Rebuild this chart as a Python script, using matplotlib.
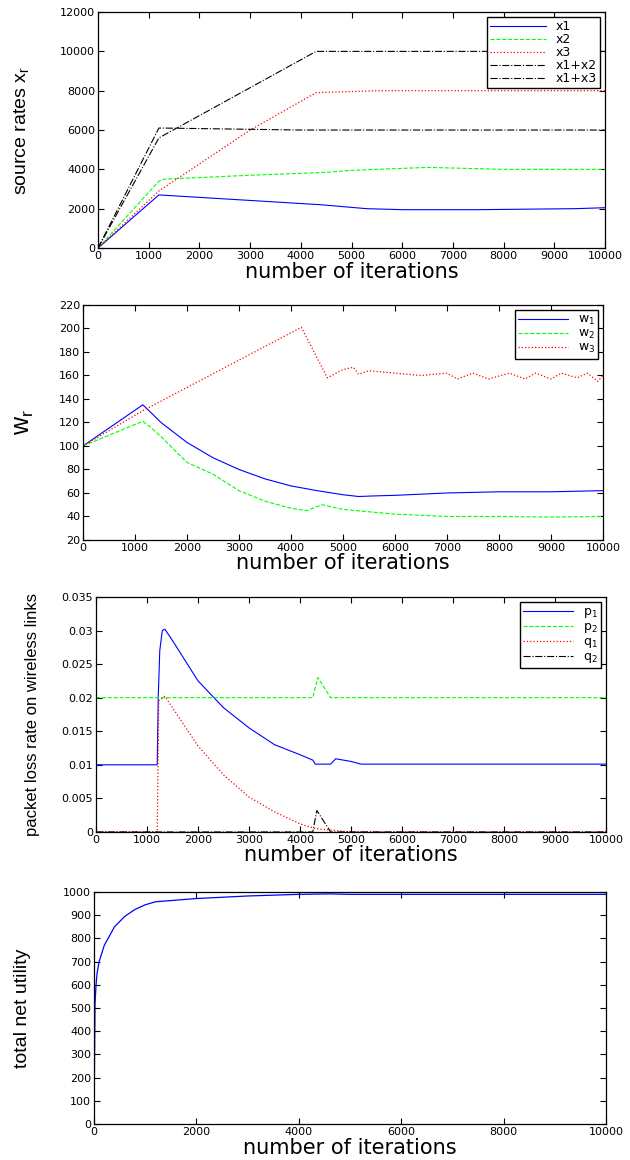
import matplotlib
matplotlib.use("Agg")
import matplotlib.pyplot as plt

# ---- panel 1: source rates (iteration, value) key points
x1_it = [0, 1200, 4400, 5300, 6000, 7500, 9400, 10000]
x1_v = [0, 2700, 2200, 2000, 1950, 1950, 2000, 2050]
x2_it = [0, 1200, 1300, 3000, 4500, 5000, 6500, 8000, 10000]
x2_v = [0, 3400, 3500, 3700, 3850, 3950, 4100, 4000, 4000]
x3_it = [0, 1200, 3000, 4300, 5500, 10000]
x3_v = [0, 2900, 6000, 7900, 8000, 8000]
x12_it = [0, 1200, 1300, 4000, 10000]
x12_v = [0, 6100, 6100, 6000, 6000]
x13_it = [0, 1200, 4300, 10000]
x13_v = [0, 5600, 10000, 10000]

# ---- panel 2: w_r
w1_it = [0, 1150, 1200, 1500, 2000, 2500, 3000, 3500, 4000, 4500, 5000, 5300,
         5600, 6000, 7000, 8000, 9000, 10000]
w1_v = [100, 135, 133, 120, 103, 90, 80, 72, 66, 62, 58.5, 57, 57.5, 58, 60,
        61, 61, 62]
w2_it = [0, 1150, 1300, 1500, 2000, 2500, 3000, 3500, 4000, 4300, 4600, 5000,
         6000, 7000, 8000, 9000, 10000]
w2_v = [100, 121, 116, 108, 86, 76, 62, 53, 47, 45, 50, 46, 42, 40, 40, 39.5, 40]
w3_it = [0, 1150, 4200, 4700, 5000, 5200, 5300, 5500, 6000, 6500, 7000, 7200,
         7500, 7800, 8200, 8500, 8700, 9000, 9200, 9500, 9700, 9900, 10000]
w3_v = [100, 130, 201, 158, 165, 167, 161, 164, 162, 160, 162, 157, 162, 157,
        162, 157, 162, 157, 162, 158, 162, 155, 160]

# ---- panel 3: packet loss rates
p1_it = [0, 1200, 1220, 1250, 1300, 1350, 1500, 2000, 2500, 3000, 3500, 4000,
         4250, 4300, 4600, 4700, 5000, 5200, 10000]
p1_v = [0.01, 0.01, 0.020, 0.027, 0.030, 0.0302, 0.0285, 0.0225, 0.0185,
        0.0155, 0.013, 0.0115, 0.0107, 0.0101, 0.0101, 0.0109, 0.0105, 0.0101,
        0.0101]
p2_it = [0, 4250, 4350, 4600, 10000]
p2_v = [0.02, 0.02, 0.023, 0.02, 0.02]
q1_it = [0, 1200, 1230, 1350, 1500, 2000, 2500, 3000, 3500, 4000, 4300, 5000,
         10000]
q1_v = [0, 0, 0.0195, 0.0202, 0.0185, 0.0128, 0.0085, 0.0052, 0.003, 0.0012,
        0.0005, 0.0, 0]
q2_it = [0, 4250, 4330, 4600, 10000]
q2_v = [0, 0, 0.0032, 0, 0]

# ---- panel 4: total net utility
u_it = [0, 20, 40, 60, 100, 200, 400, 600, 800, 1000, 1200, 2000, 3000, 4000,
        4600, 5000, 10000]
u_v = [0, 520, 600, 650, 700, 770, 850, 895, 925, 945, 958, 972, 983, 990,
       992, 990, 990]

TICK = 8
XLAB = 15
BLUE, GREEN, RED, BLACK = "#0000ff", "#00ff00", "#ff0000", "#000000"
YFONT = ["Liberation Sans", "DejaVu Sans"]


def style(ax, xstep, ylab, ylabsize, ylab_x, xlab_y):
    ax.set_xlim(0, 10000)
    ax.set_xticks(range(0, 10001, xstep))
    ax.tick_params(direction="in", top=True, right=True, labelsize=TICK,
                   length=4, width=0.8, pad=2)
    ax.set_xlabel("number of iterations", fontsize=XLAB, va="baseline")
    ax.xaxis.set_label_coords(0.5, xlab_y)
    ax.set_ylabel(ylab, fontsize=ylabsize, family=YFONT, va="center")
    ax.yaxis.set_label_coords(ylab_x, 0.5)
    for s in ax.spines.values():
        s.set_linewidth(0.9)


def legend(ax, hl):
    leg = ax.legend(loc="upper right", fontsize=9, handlelength=hl,
                    fancybox=False, framealpha=1, edgecolor="black",
                    borderaxespad=0.4, labelspacing=0.0, borderpad=0.25)
    leg.get_frame().set_linewidth(1.0)


fig = plt.figure(figsize=(6.3, 11.6), dpi=100)

ax1 = fig.add_axes([0.1556, 0.7862, 0.805, 0.2034])
ax1.plot(x1_it, x1_v, color=BLUE, ls="-", lw=0.8, label="x1")
ax1.plot(x2_it, x2_v, color=GREEN, ls="--", lw=0.8, label="x2")
ax1.plot(x3_it, x3_v, color=RED, ls=":", lw=0.9, label="x3")
ax1.plot(x12_it, x12_v, color=BLACK, ls="-.", lw=0.8, label="x1+x2")
ax1.plot(x13_it, x13_v, color=BLACK, ls="-.", lw=0.8, label="x1+x3")
ax1.set_ylim(0, 12000)
ax1.set_yticks(range(0, 12001, 2000))
style(ax1, 1000, r"source rates x$\mathregular{_r}$", 14, -0.15, -0.125)
legend(ax1, 4.5)

ax2 = fig.add_axes([0.1317, 0.5345, 0.8254, 0.2026])
ax2.plot(w1_it, w1_v, color=BLUE, ls="-", lw=0.8, label=r"w$\mathregular{_1}$")
ax2.plot(w2_it, w2_v, color=GREEN, ls="--", lw=0.8, label=r"w$\mathregular{_2}$")
ax2.plot(w3_it, w3_v, color=RED, ls=":", lw=0.9, label=r"w$\mathregular{_3}$")
ax2.set_ylim(20, 220)
ax2.set_yticks(range(20, 221, 20))
style(ax2, 1000, r"w$\mathregular{_r}$", 18, -0.113, -0.125)
legend(ax2, 4)

ax3 = fig.add_axes([0.1524, 0.2828, 0.8095, 0.2026])
ax3.plot(p1_it, p1_v, color=BLUE, ls="-", lw=0.8, label=r"p$\mathregular{_1}$")
ax3.plot(p2_it, p2_v, color=GREEN, ls="--", lw=0.8, label=r"p$\mathregular{_2}$")
ax3.plot(q1_it, q1_v, color=RED, ls=":", lw=0.9, label=r"q$\mathregular{_1}$")
ax3.plot(q2_it, q2_v, color=BLACK, ls="-.", lw=0.8, label=r"q$\mathregular{_2}$")
ax3.set_ylim(0, 0.035)
ax3.set_yticks([0, 0.005, 0.01, 0.015, 0.02, 0.025, 0.03, 0.035])
ax3.set_yticklabels(["0", "0.005", "0.01", "0.015", "0.02", "0.025", "0.03",
                     "0.035"])
style(ax3, 1000, "packet loss rate on wireless links", 12, -0.125, -0.125)
legend(ax3, 4)

ax4 = fig.add_axes([0.1492, 0.031, 0.8127, 0.2])
ax4.plot(u_it, u_v, color=BLUE, ls="-", lw=0.9)
ax4.set_ylim(0, 1000)
ax4.set_yticks(range(0, 1001, 100))
style(ax4, 2000, "total net utility", 14, -0.14, -0.128)

fig.savefig("out.png", dpi=100, facecolor="white")
